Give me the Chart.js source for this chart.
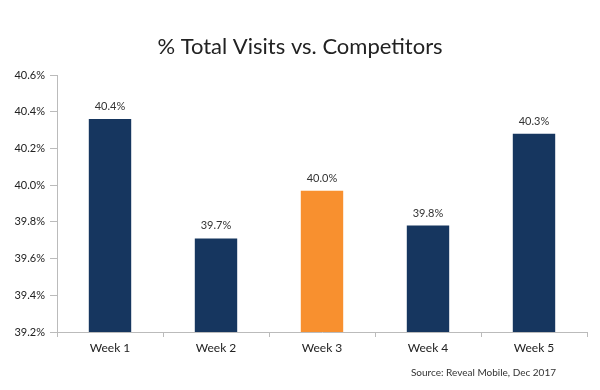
<!DOCTYPE html>
<html>
<head>
<meta charset="utf-8">
<script src="https://cdn.jsdelivr.net/npm/chart.js@4/dist/chart.umd.min.js"></script>
<style>
  html, body { margin: 0; padding: 0; background: #fff; }
  #wrap { width: 600px; height: 390px; position: relative; }
</style>
</head>
<body>
<div id="wrap"><canvas id="c"></canvas></div>
<script>
const categories = ['Week 1', 'Week 2', 'Week 3', 'Week 4', 'Week 5'];
const visitShare = [40.36, 39.71, 39.97, 39.78, 40.28];
const barColors = ['#16365f', '#16365f', '#f8902f', '#16365f', '#16365f'];
const yTickMin = 39.2;
const yTickMax = 40.6;
const yTickStep = 0.2;
const chartTitle = '% Total Visits vs. Competitors';
const sourceNote = 'Source: Reveal Mobile, Dec 2017';

const FONT = 'Lato, "Noto Sans", sans-serif';

const valueLabels = {
  id: 'valueLabels',
  afterDatasetsDraw(chart) {
    const ctx = chart.ctx;
    const meta = chart.getDatasetMeta(0);
    ctx.save();
    ctx.font = '11px ' + FONT;
    ctx.fillStyle = '#333';
    ctx.textAlign = 'center';
    ctx.textBaseline = 'bottom';
    meta.data.forEach((bar, i) => {
      ctx.fillText(visitShare[i].toFixed(1) + '%', bar.x, bar.y - 7);
    });
    ctx.restore();
  }
};

const sourceText = {
  id: 'sourceText',
  afterDraw(chart) {
    const ctx = chart.ctx;
    ctx.save();
    ctx.font = '10px ' + FONT;
    ctx.fillStyle = '#333';
    ctx.textAlign = 'right';
    ctx.textBaseline = 'middle';
    ctx.fillText(sourceNote, chart.chartArea.right - 31, chart.chartArea.bottom + 41);
    ctx.restore();
  }
};

new Chart(document.getElementById('c'), {
  type: 'bar',
  data: {
    labels: categories,
    datasets: [{
      data: visitShare,
      backgroundColor: barColors,
      borderWidth: 0,
      barPercentage: 0.4,
      categoryPercentage: 1.0
    }]
  },
  options: {
    responsive: true,
    maintainAspectRatio: false,
    animation: false,
    layout: { padding: { left: 0, right: 0, top: 0, bottom: 24 } },
    plugins: {
      legend: { display: false },
      tooltip: { enabled: false },
      title: {
        display: true,
        text: chartTitle,
        color: '#222',
        font: { family: FONT, size: 22, weight: 'normal' },
        padding: { top: 34, bottom: 14.6 }
      }
    },
    scales: {
      x: {
        grid: {
          display: true,
          offset: true,
          drawOnChartArea: false,
          drawTicks: true,
          tickLength: 5,
          color: '#bbb'
        },
        border: { display: true, color: '#bbb' },
        ticks: {
          color: '#222',
          font: { family: FONT, size: 12 },
          padding: 4,
          maxRotation: 0
        },
        afterFit(scale) { scale.height = 34; }
      },
      y: {
        min: yTickMin,
        max: yTickMax,
        grid: {
          display: true,
          drawOnChartArea: false,
          drawTicks: true,
          tickLength: 7,
          color: '#bbb'
        },
        border: { display: true, color: '#bbb' },
        ticks: {
          stepSize: yTickStep,
          color: '#222',
          font: { family: FONT, size: 11 },
          padding: 5,
          callback: v => v.toFixed(1) + '%'
        },
        afterFit(scale) { scale.width = 57; }
      },
      ySpacer: {
        position: 'right',
        display: true,
        grid: { display: false },
        border: { display: false },
        ticks: { display: false },
        afterFit(scale) { scale.width = 13; }
      }
    }
  },
  plugins: [valueLabels, sourceText]
});
</script>
</body>
</html>
